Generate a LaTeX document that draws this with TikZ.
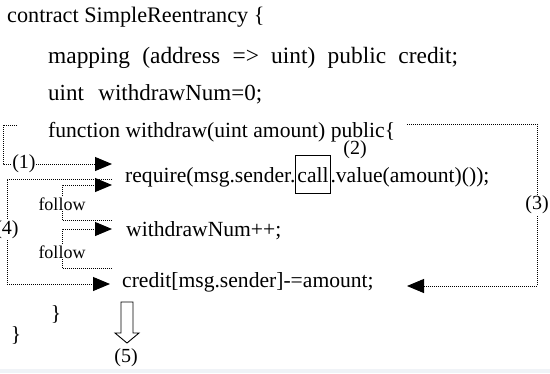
\documentclass[tikz,border=0pt]{standalone}
\usepackage{fontspec}
\setmainfont{Liberation Serif}
\usetikzlibrary{arrows.meta,calc}
\definecolor{bandgray}{RGB}{240,243,247}
\begin{document}
\begin{tikzpicture}[x=1pt,y=-1pt,
  code/.style={anchor=base west,inner sep=0pt,font=\fontsize{21.6}{24}\selectfont},
  lbl/.style={inner sep=0.5pt,font=\fontsize{20}{24}\selectfont,fill=white},
  flw/.style={inner sep=0.5pt,font=\fontsize{18}{20}\selectfont,fill=white},
  dots/.style={dash pattern=on 1pt off 1pt,line width=1pt},
  tip/.style={-{Triangle[length=17pt,width=14pt]}},
]
\useasboundingbox (0,0) rectangle (550,373);
\fill[bandgray] (0,369) rectangle (550,373);

% code lines
\node[code,font=\fontsize{22.2}{24}\selectfont] (c1) at (7,22) {contract SimpleReentrancy \{};
\node[code,font=\fontsize{23.4}{24}\selectfont] (c2) at (48,63) {\makebox[410pt][s]{mapping (address => uint) public credit;}};
\node[code,font=\fontsize{23}{24}\selectfont] (c3) at (48,100) {\makebox[214pt][s]{uint withdrawNum=0;}};
\node[code] (c4) at (48,137) {function withdraw(uint amount) public\{};
\node[code] (req1) at (125,182) {require(msg.sender.};
\node[code,inner xsep=1.5pt] (call) at (req1.base east) {call};
\node[code] (req2) at (call.base east) {.value(amount)());};
\draw[line width=0.8pt] ($(call.base west)+(0,-27)$) rectangle ($(call.base east)+(0,11)$);
\node[font=\fontsize{20}{24}\selectfont,inner sep=0pt] (n2) at (355,150) {(2)};
\node[code] (wn) at (126,236) {withdrawNum++;};
\node[code] (cr) at (122,287) {credit[msg.sender]-=amount;};
\node[font=\fontsize{21.6}{24}\selectfont,inner sep=0pt] (br1) at (56,314) {\}};
\node[font=\fontsize{21.6}{24}\selectfont,inner sep=0pt] (br2) at (16,335) {\}};

% (1)
\coordinate (tl) at (17,125);
\coordinate (tlc) at (3,125);
\node[lbl] (l1) at (24,164) {(1)};
\coordinate (a1) at (112,164);
\draw[dots] (tl) -- (tlc) |- (l1.west);
\draw[dots,tip] (l1.east) -- (a1);

% (3)
\coordinate (tr) at (407,124);
\coordinate (trc) at (537,124);
\coordinate (brc) at (537,286);
\coordinate (a3) at (407,286);
\draw[dots,tip] (tr) -- (trc) -- node[lbl] (l3) {(3)} (brc) -- (a3);

% (4)
\coordinate (t4) at (112,179);
\coordinate (t4c) at (7,179);
\coordinate (b4c) at (7,284);
\coordinate (a4) at (110,284);
\draw[dots,tip] (t4) -- (t4c) -- node[lbl,pos=0.48] (l4) {(4)} (b4c) -- (a4);

% follow 1
\coordinate (f1s) at (112,220);
\coordinate (f1a) at (62,220);
\coordinate (f1b) at (62,185);
\coordinate (f1t) at (112,185);
\draw[dots,tip] (f1s) -- (f1a) -- node[flw,pos=0.45] (lf1) {follow} (f1b) -- (f1t);

% follow 2
\coordinate (f2s) at (112,268);
\coordinate (f2a) at (62,268);
\coordinate (f2b) at (62,229);
\coordinate (f2t) at (112,229);
\draw[dots,tip] (f2s) -- (f2a) -- node[flw,pos=0.4] (lf2) {follow} (f2b) -- (f2t);

% (5) hollow arrow
\draw[line width=0.9pt] (121,302) -- (133,302) -- (133,333) -- (139,333) -- (127,343) -- (115,333) -- (121,333) -- cycle;
\node[font=\fontsize{20}{24}\selectfont,inner sep=0pt] (n5) at (126,358) {(5)};
\end{tikzpicture}
\end{document}
